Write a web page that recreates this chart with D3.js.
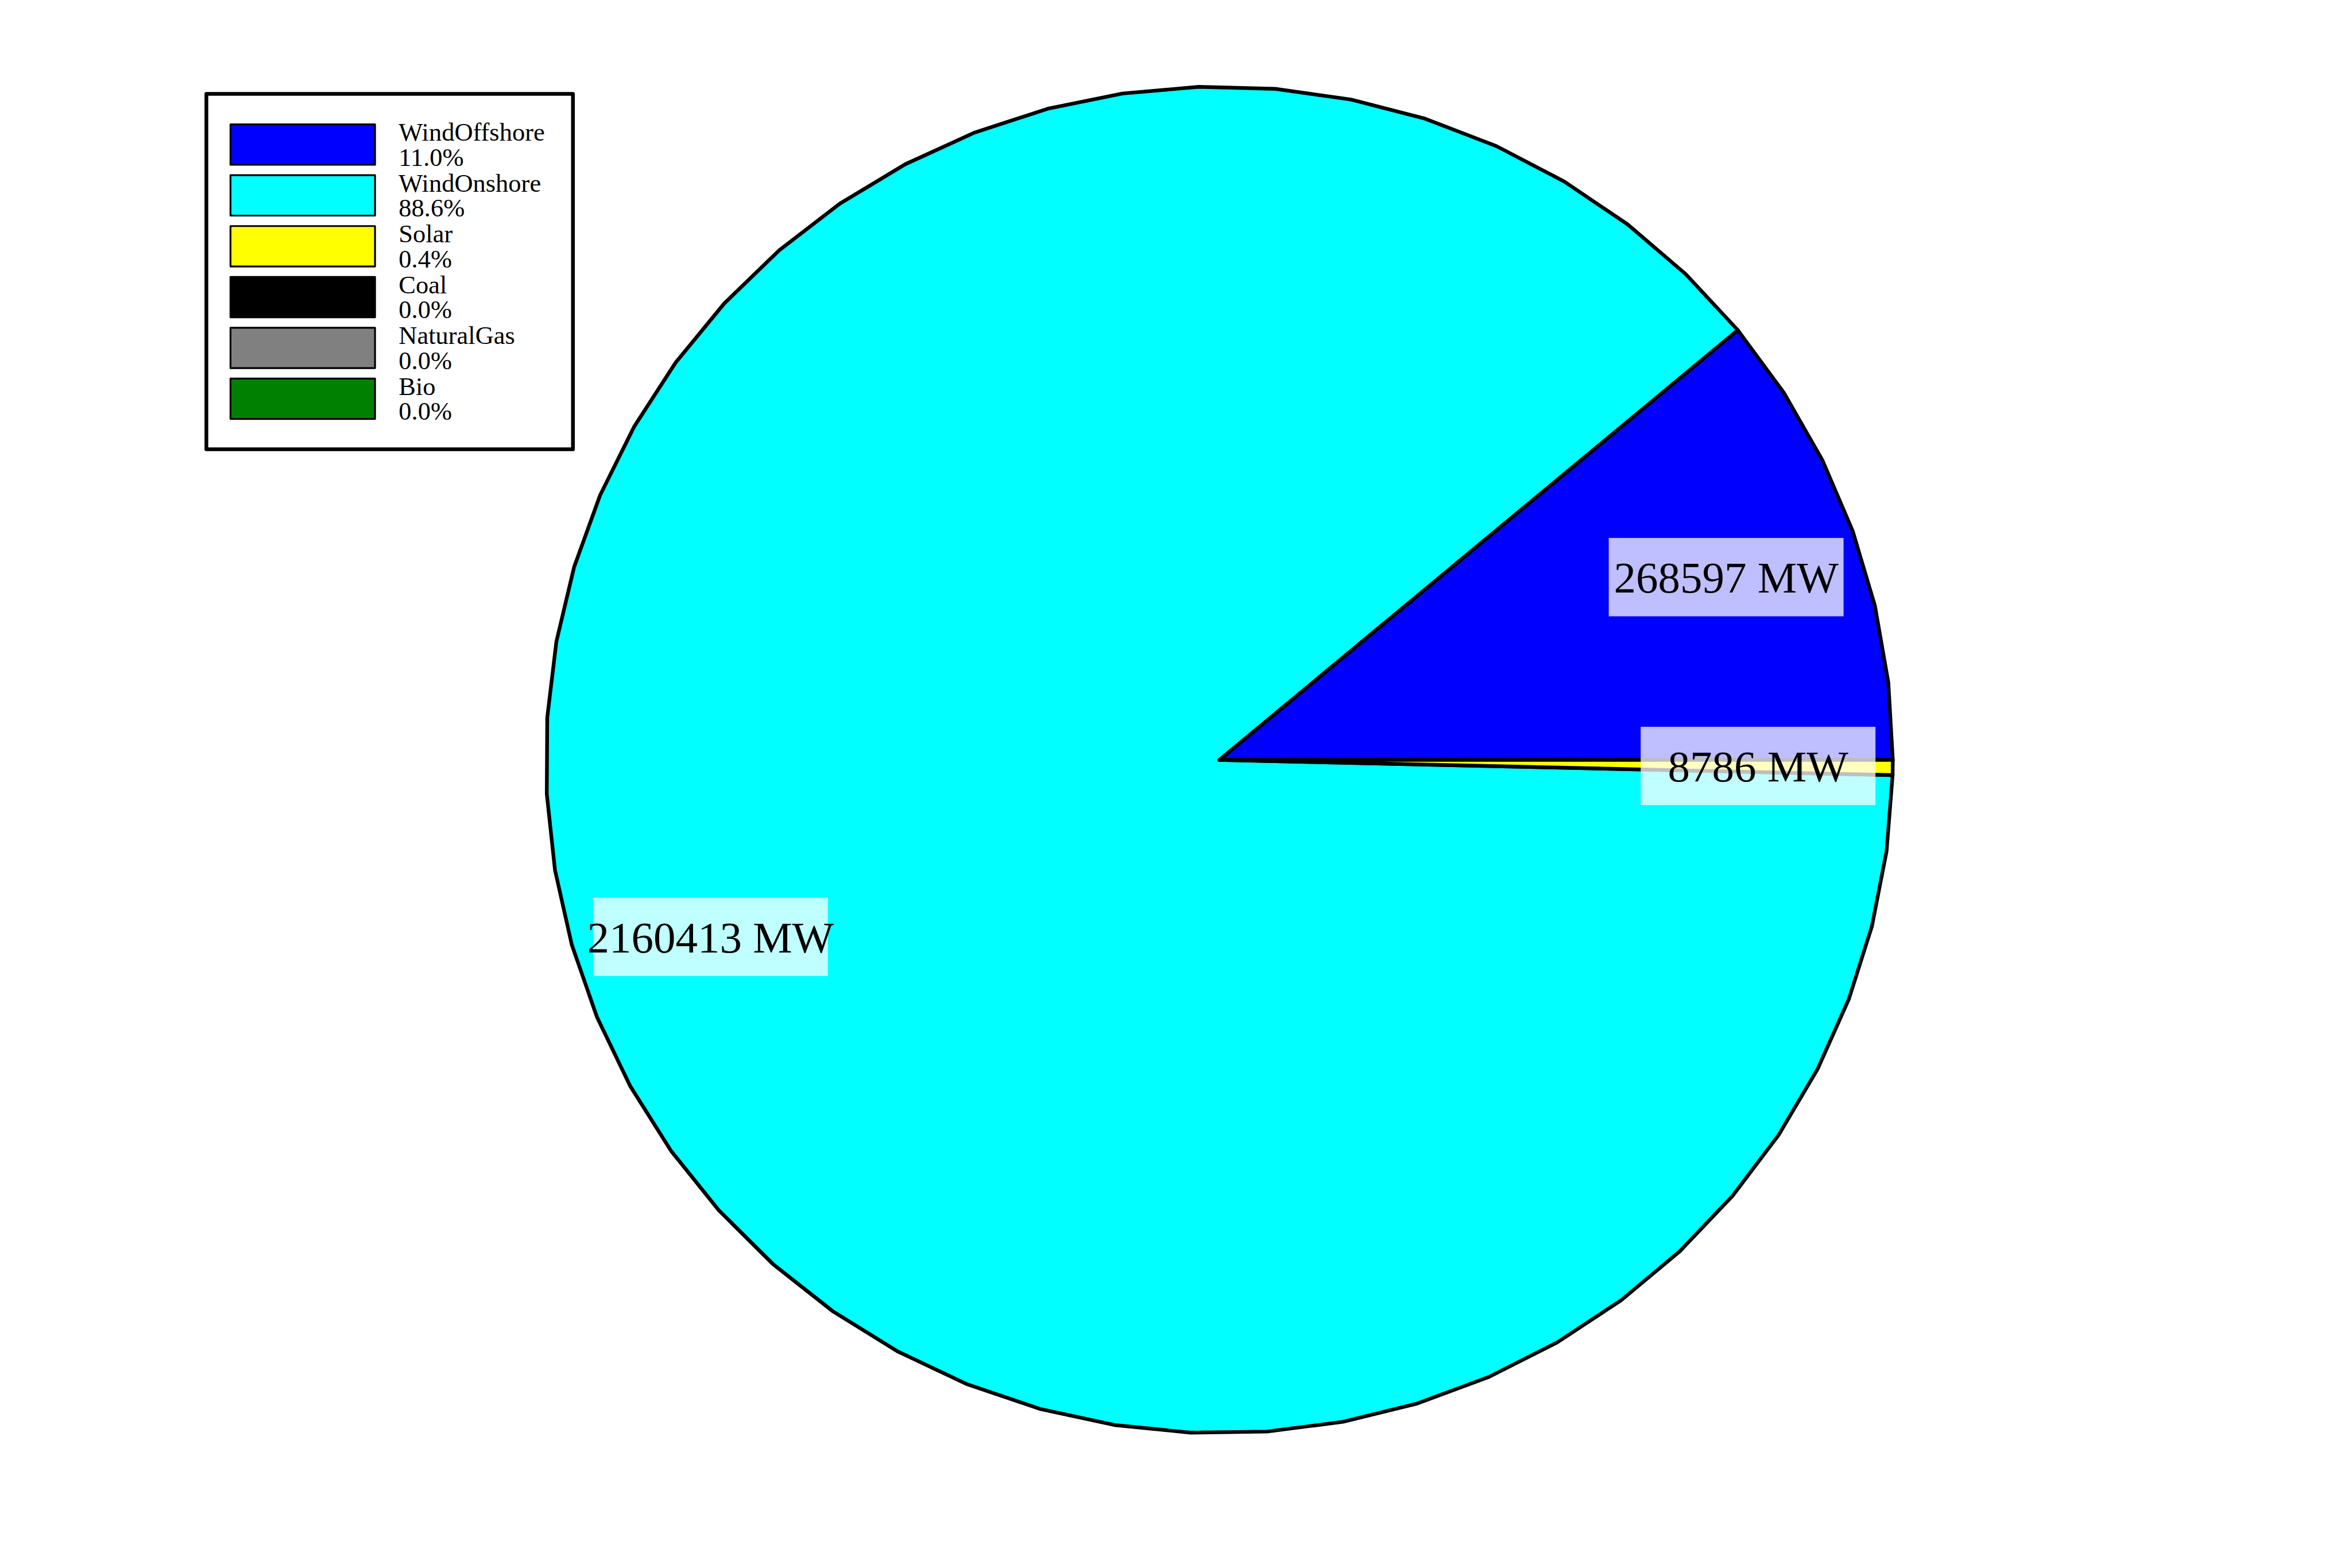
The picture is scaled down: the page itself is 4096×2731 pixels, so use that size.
<!DOCTYPE html>
<html>
<head>
<meta charset="utf-8">
<script src="https://cdn.jsdelivr.net/npm/d3@7"></script>
<style>
  html, body { margin: 0; padding: 0; background: #ffffff; }
  svg { display: block; }
</style>
</head>
<body>
<script>
// ---- data ----
const categories = ["WindOffshore", "WindOnshore", "Solar", "Coal", "NaturalGas", "Bio"];
const capacityMW = [268597, 2160413, 8786, 0, 0, 0];
const sliceColors = ["#0000ff", "#00ffff", "#ffff00", "#000000", "#808080", "#008000"];
const unitLabel = " MW";

// ---- layout (output px) ----
const W = 4096, H = 2731;
const cx = 2123.5, cy = 1323.5, R = 1172.8;
const labelR = 0.8 * R;
const facetStep = 6.62 * Math.PI / 180;

const svg = d3.select("body").append("svg")
  .attr("width", W).attr("height", H)
  .attr("viewBox", `0 0 ${W} ${H}`);
svg.append("rect").attr("width", W).attr("height", H).attr("fill", "#ffffff");

const data = categories.map((c, i) => ({ name: c, value: capacityMW[i], color: sliceColors[i] }));
const total = d3.sum(data, d => d.value);

// counter-clockwise from 3 o'clock
const pie = d3.pie().sort(null).value(d => d.value)
  .startAngle(Math.PI / 2).endAngle(Math.PI / 2 - 2 * Math.PI);
const arcs = pie(data);

const g = svg.append("g").attr("transform", `translate(${cx},${cy})`);

function wedgePath(d) {
  const p = d3.path();
  const s = d.startAngle, e = d.endAngle;
  const n = Math.max(1, Math.ceil(Math.abs(e - s) / facetStep - 1e-9));
  p.moveTo(0, 0);
  for (let k = 0; k <= n; k++) {
    const a = s + (e - s) * k / n;
    p.lineTo(R * Math.sin(a), -R * Math.cos(a));
  }
  p.closePath();
  return p.toString();
}

g.selectAll("path.wedge")
  .data(arcs.filter(d => d.data.value > 0))
  .join("path")
  .attr("class", "wedge")
  .attr("d", wedgePath)
  .attr("fill", d => d.data.color)
  .attr("stroke", "#000")
  .attr("stroke-width", 6.4)
  .attr("stroke-linejoin", "round");

// value labels with translucent white boxes
const labelArc = d3.arc().innerRadius(labelR).outerRadius(labelR);
const boxW = 408.9, boxH = 136.5;
const lab = g.selectAll("g.lab")
  .data(arcs.filter(d => d.data.value > 0))
  .join("g")
  .attr("class", "lab")
  .attr("transform", d => `translate(${labelArc.centroid(d)})`);
lab.append("rect")
  .attr("x", -boxW / 2).attr("y", -boxH / 2)
  .attr("width", boxW).attr("height", boxH)
  .attr("fill", "#ffffff").attr("fill-opacity", 0.75);
lab.append("text")
  .attr("text-anchor", "middle")
  .attr("y", 27)
  .attr("font-family", "'Liberation Serif', 'DejaVu Serif', serif")
  .attr("font-size", 77)
  .attr("fill", "#000")
  .text(d => d3.format("d")(d.data.value) + unitLabel);

// ---- legend ----
const pct = d3.format(".1f");
const leg = svg.append("g");
leg.append("rect")
  .attr("x", 359.4).attr("y", 163.4)
  .attr("width", 638.4).attr("height", 619.2)
  .attr("fill", "#ffffff")
  .attr("stroke", "#000").attr("stroke-width", 6.5)
  .attr("stroke-linejoin", "round");

const rowY = d3.scaleLinear().domain([0, 1]).range([216.7, 216.7 + 88.52]);
const items = leg.selectAll("g.item").data(data).join("g")
  .attr("class", "item")
  .attr("transform", (d, i) => `translate(0,${rowY(i)})`);
items.append("rect")
  .attr("x", 401.4).attr("y", 0)
  .attr("width", 251.7).attr("height", 70.3)
  .attr("fill", d => d.color)
  .attr("stroke", "#000").attr("stroke-width", 3.2)
  .attr("stroke-linejoin", "round");
const t = items.append("text")
  .attr("font-family", "'Liberation Serif', 'DejaVu Serif', serif")
  .attr("font-size", 44.5)
  .attr("fill", "#000");
t.append("tspan").attr("x", 694.3).attr("y", 28.3).text(d => d.name);
t.append("tspan").attr("x", 694.3).attr("y", 28.3 + 43.9)
  .text(d => pct(100 * d.value / total) + "%");
</script>
</body>
</html>
